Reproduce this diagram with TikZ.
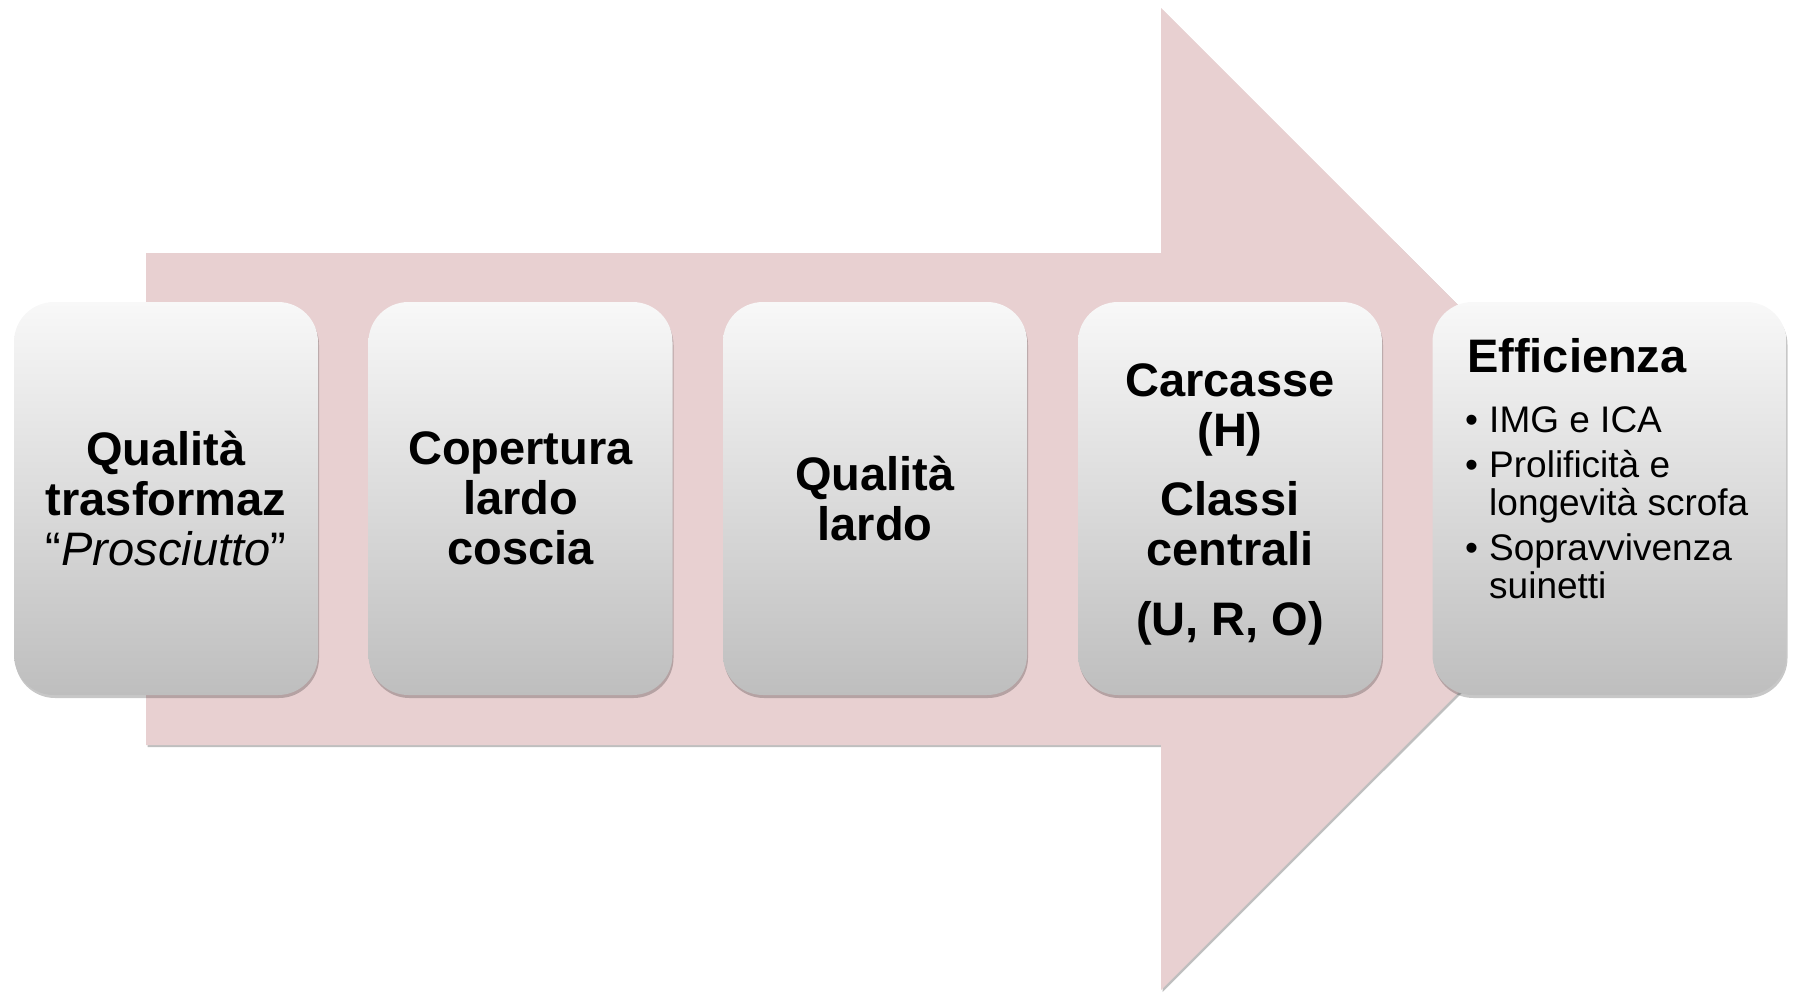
\documentclass[tikz,border=0pt]{standalone}
\usepackage{fontspec}
\setmainfont{Liberation Sans}
\usetikzlibrary{shadows}
\definecolor{arrowpink}{RGB}{232,208,209}
\definecolor{cardtop}{RGB}{248,248,248}
\definecolor{cardbot}{RGB}{190,190,190}
\begin{document}
\begin{tikzpicture}[x=1pt,y=-1pt,
  card/.style={rounded corners=40pt, minimum width=304pt, minimum height=393pt,
    inner sep=0pt, top color=cardtop, bottom color=cardbot, draw=none,
    align=center, font=\bfseries\fontsize{47}{50}\selectfont,
    drop shadow={shadow xshift=1pt, shadow yshift=-3pt, opacity=0.22, fill=black}},
  bigtitle/.style={anchor=base west, inner sep=0pt, font=\bfseries\fontsize{47}{50}\selectfont},
  bullettext/.style={anchor=base west, inner sep=0pt, align=left, font=\fontsize{37}{38}\selectfont},
  bulletdot/.style={anchor=base west, inner sep=0pt, font=\fontsize{37}{38}\selectfont}]
\useasboundingbox (0,0) rectangle (1794,993);
% big arrow
\fill[black, opacity=0.25] (147.5,255) -- (1162.5,255) -- (1162.5,10) -- (1654,501) -- (1162.5,992) -- (1162.5,747) -- (147.5,747) -- cycle;
\fill[arrowpink] (146,253) -- (1161,253) -- (1161,8) -- (1652,499) -- (1161,990) -- (1161,745) -- (146,745) -- cycle;
% cards
\node[card] (c1) at (166,498.5) {Qualità\\trasformaz\\\mdseries “\textit{Prosciutto}”};
\node[card] (c2) at (520.5,498.5) {Copertura\\lardo\\coscia};
\node[card] (c3) at (875,498.5) {Qualità\\lardo};
\node[card] (c4) at (1230,498.5) {\rule{0pt}{45pt}Carcasse\\(H)\\[19pt]Classi\\centrali\\[20pt](U, R, O)};
\node[card, minimum width=354pt] (c5) at (1609.5,498.5) {};
% last card text
\node[bigtitle] (t5) at (1467,372) {Efficienza};
\node[bulletdot] (d1) at (1465,432) {•};
\node[bullettext] (b1) at (1489,432) {IMG e ICA};
\node[bulletdot] (d2) at (1465,477) {•};
\node[bullettext] (b2) at (1489,515) {Prolificità e\\longevità scrofa};
\node[bulletdot] (d3) at (1465,560) {•};
\node[bullettext] (b3) at (1489,598) {Sopravvivenza\\suinetti};
\end{tikzpicture}
\end{document}
